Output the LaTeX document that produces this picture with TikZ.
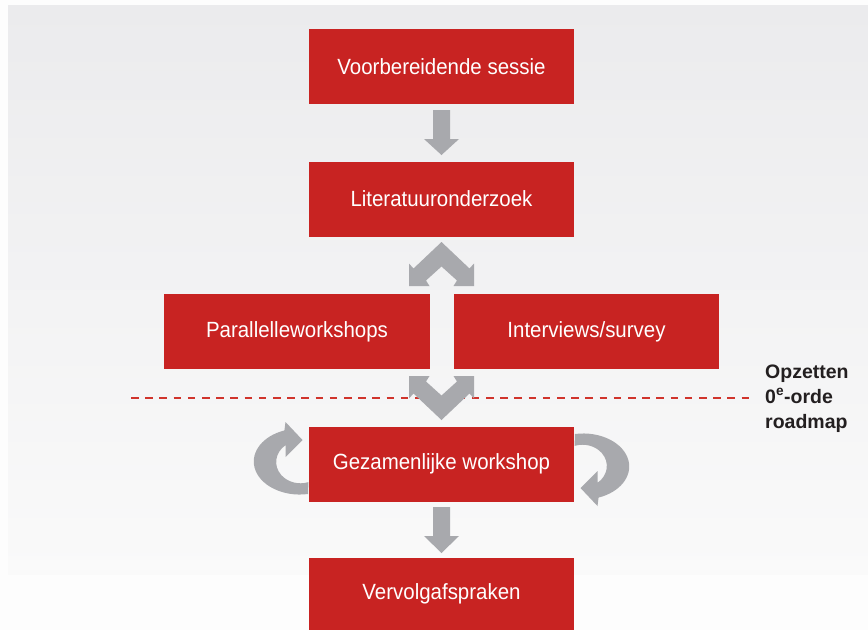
\documentclass[tikz,border=0pt]{standalone}
\usepackage{fontspec}
\newfontfamily\boxfont{Liberation Sans}[FakeStretch=0.93]
\newfontfamily\sidefont{Liberation Sans}
\definecolor{boxred}{RGB}{200,35,34}
\definecolor{linered}{RGB}{208,52,44}
\definecolor{arrowgray}{RGB}{168,169,173}
\definecolor{bgtop}{RGB}{235,235,237}
\definecolor{bgbot}{RGB}{250,250,250}
\definecolor{pagebg}{RGB}{253,253,253}
\definecolor{labelink}{RGB}{35,31,32}
\tikzset{
  stepbox/.style={rectangle, fill=boxred, text=white, inner sep=0pt,
    minimum width=265pt, minimum height=75pt,
    font=\boxfont\fontsize{22}{26}\selectfont},
  sidelabel/.style={anchor=base west, inner sep=0pt, text=labelink,
    font=\sidefont\bfseries\fontsize{19.5}{24}\selectfont},
  blockarrow/.style={fill=arrowgray},
}
\newcommand{\leftcircpath}{%
  (308,494) arc[start angle=-79.7, end angle=-250.5, x radius=46pt, y radius=33pt]
  -- (285.5,422) -- (302.5,440) -- (285.5,457) -- (285.5,445.2)
  arc[start angle=128, end angle=289.2, x radius=24.3pt, y radius=21.3pt] -- cycle}
\begin{document}
\begin{tikzpicture}[x=1pt, y=-1pt]
\useasboundingbox (0,0) rectangle (868,630);
\fill[pagebg] (0,0) rectangle (868,630);
\shade[top color=bgtop, bottom color=bgbot] (8,5) rectangle (868,574);

% dashed separator
\coordinate (dashL) at (131,398);
\coordinate (dashR) at (752,398);
\draw[linered, line width=1.2pt, dash pattern=on 7.5pt off 6.7pt] (dashL) -- (dashR);

% boxes
\node[stepbox] (voor) at (441.5,66.5) {Voorbereidende sessie};
\node[stepbox] (lit) at (441.5,199) {Literatuuronderzoek};
\node[stepbox, minimum width=266pt] (par) at (297,331.5) {Parallelleworkshops};
\node[stepbox] (int) at (586.5,331.5) {Interviews/survey};
\node[stepbox] (gez) at (441.5,464) {Gezamenlijke workshop};
\node[stepbox, minimum height=72pt] (verv) at (441.5,594) {Vervolgafspraken};

% down arrows
\fill[blockarrow] (433,110) -- (450,110) -- (450,139) -- (459,139) -- (441.5,155)
  -- (424,139) -- (433,139) -- cycle;
\fill[blockarrow] (433,507) -- (450,507) -- (450,536) -- (459,536) -- (441.5,553)
  -- (424,536) -- (433,536) -- cycle;

% upper chevron
\fill[blockarrow] (441.5,242) -- (469.5,268.5) -- (474,263.5) -- (474,286)
  -- (453.5,286) -- (457,280.5) -- (441.5,266.5) -- (426,280.5) -- (429.5,286)
  -- (409,286) -- (409,263.5) -- (413.5,268.5) -- cycle;
% lower chevron
\fill[blockarrow] (441.5,420) -- (469.5,393.5) -- (474,398.5) -- (474,376)
  -- (453.5,376) -- (457,381.5) -- (441.5,395.5) -- (426,381.5) -- (429.5,376)
  -- (409,376) -- (409,398.5) -- (413.5,393.5) -- cycle;

% circular arrows
\fill[blockarrow] \leftcircpath;
\begin{scope}[rotate around={180:(gez.center)}]
\fill[blockarrow] \leftcircpath;
\end{scope}

% side label
\node[sidelabel] (lab1) at (765,378) {Opzetten};
\node[sidelabel] (lab2) at (765,403) {0\textsuperscript{e}-orde};
\node[sidelabel] (lab3) at (765,428) {roadmap};
\end{tikzpicture}
\end{document}
